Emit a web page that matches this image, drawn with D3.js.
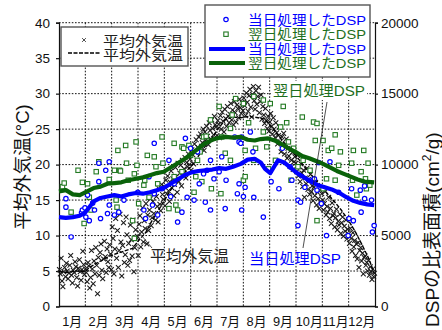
<!DOCTYPE html>
<html>
<head>
<meta charset="utf-8">
<script src="https://cdn.jsdelivr.net/npm/d3@7"></script>
<style>
  body { margin: 0; background: #fff; }
  svg { display: block; }
  text { font-family: "Liberation Sans", Arial, "Noto Sans CJK JP", sans-serif; }
</style>
</head>
<body>
<svg id="chart" width="442" height="330"></svg>
<script>
// ---- data ----------------------------------------------------------------
const months = ["1月","2月","3月","4月","5月","6月","7月","8月","9月","10月","11月","12月"];
const tempTicks = [0, 5, 10, 15, 20, 25, 30, 35, 40];
const dspTicks = [0, 5000, 10000, 15000, 20000];

// daily mean outdoor temperature (°C), one row per month
const tempDaily = [
  5.2,4.6,6.8,3.6,2.8,4.9,5.5,4.2,6.1,5.0,3.9,4.7,5.8,7.2,4.4,3.3,5.1,4.8,6.3,5.6,4.1,2.9,5.4,6.6,4.9,3.7,5.2,7.8,5.9,4.5,5.3,
  4.8,3.5,6.2,5.7,2.6,4.1,7.9,5.3,3.2,6.4,4.6,8.3,5.8,1.8,6.9,4.4,7.6,8.8,5.1,3.9,6.7,9.2,7.0,4.8,8.1,6.3,5.5,8.7,
  7.4,5.2,11.2,9.6,4.6,8.1,12.4,6.8,10.7,5.5,7.9,13.0,9.1,4.3,8.6,11.8,6.2,7.3,12.6,10.1,5.8,8.9,6.5,11.5,9.4,7.1,12.2,4.9,8.3,10.8,9.7,
  9.9,7.2,11.6,12.8,8.4,10.5,13.9,9.1,12.1,11.0,14.5,8.8,12.9,10.7,13.6,15.2,11.4,12.5,14.8,13.1,16.0,12.2,15.5,14.1,11.9,16.6,14.4,13.5,17.2,15.8,
  15.1,16.9,14.2,17.8,15.9,18.4,16.3,14.8,17.5,19.1,16.7,18.0,15.6,17.2,19.6,18.3,16.1,20.2,17.6,18.8,19.9,17.0,20.6,18.5,19.4,21.0,18.1,20.3,19.7,21.5,20.0,
  20.8,19.2,22.1,21.4,20.1,22.9,21.7,23.5,20.6,22.4,23.9,21.8,24.3,22.6,23.1,25.0,22.0,24.6,23.4,25.4,24.0,22.8,25.9,24.8,23.6,26.3,25.1,24.2,26.8,25.6,
  25.3,24.1,26.2,25.7,23.8,26.9,25.0,27.4,26.1,24.6,27.8,26.5,25.4,28.2,26.8,25.9,27.1,28.6,26.3,27.7,25.6,28.9,27.3,26.0,28.4,27.9,26.6,29.2,28.0,27.2,28.7,
  27.6,29.4,28.3,26.9,30.1,28.8,27.5,29.7,30.6,28.1,26.7,29.9,31.0,29.0,27.8,30.4,28.5,29.6,30.9,27.3,28.9,29.8,26.4,28.2,27.0,25.8,27.9,26.2,25.1,26.8,24.7,
  26.0,27.2,25.4,24.3,26.6,25.0,23.8,25.9,24.5,22.9,24.1,25.3,23.2,21.8,23.9,22.6,24.4,21.5,22.8,23.6,20.9,22.3,21.2,19.8,22.0,20.6,21.7,19.3,20.4,21.1,
  20.2,19.0,21.3,18.4,19.7,17.6,20.1,18.8,16.9,19.2,15.4,18.1,17.3,19.5,16.5,17.9,15.8,18.6,16.2,17.0,14.9,16.8,15.6,17.5,14.3,16.1,15.2,13.8,16.4,14.6,15.9,
  15.0,13.6,14.5,16.2,12.9,14.1,13.3,15.4,12.4,13.8,11.7,14.6,12.8,13.1,11.2,12.5,13.7,10.8,12.0,11.5,13.0,10.3,11.8,12.6,9.9,11.3,10.6,12.2,9.5,10.9,
  10.2,8.9,11.0,9.6,7.8,10.4,8.4,9.3,7.2,8.8,6.7,9.0,5.5,7.9,8.3,6.4,7.5,4.6,6.9,7.1,5.8,6.2,5.0,6.5,4.4,5.6,4.9,3.8,5.3,4.2,4.7
];

// moving average of the outdoor temperature
const tempAvgDays = [0,10,20,30,35,45,55,65,75,85,92,100,107,115,122,130,138,146,153,161,169,176,184,192,200,210,220,230,238,246,254,262,270,278,286,294,302,310,318,326,334,342,350,358,364];
const tempAvg     = [4.9,4.8,5.0,4.9,5.5,6.2,6.9,7.4,7.8,8.2,9.3,10.4,12.0,13.6,15.0,16.6,17.8,19.0,19.8,21.2,22.6,23.6,25.1,26.3,26.7,26.6,26.8,26.6,26.4,25.2,24.0,22.8,21.8,20.6,19.3,18.2,17.1,15.9,14.8,13.6,12.2,10.6,8.7,6.7,4.7];

// specific surface area of DSP processed the same day (cm²/g)
const sameDayDays = [8,8,14,26,27,30,31,33,35,39,41,46,46,48,54,56,58,58,64,69,75,91,98,100,104,108,110,110,114,119,127,129,133,137,142,146,148,152,156,160,162,167,169,171,175,175,179,185,188,192,193,203,206,208,208,210,211,211,213,215,221,224,225,236,245,254,258,267,269,276,276,279,284,290,295,298,300,303,309,313,323,334,335,338,340,348,349,353,353,361,362,364];
const sameDayDSP  = [7600,7000,4900,6600,6800,6950,6300,7850,6050,7300,6800,10100,8800,6200,9600,6550,10200,7150,6450,6650,7500,8050,6800,6200,9150,7150,11500,7950,6450,8300,10300,7750,8650,5950,6650,11850,7700,11150,7500,10900,8650,9350,7350,9600,10300,6800,9000,9500,10550,6900,8900,11950,7950,11600,8650,11500,11950,6800,7750,8400,12300,10900,7700,6300,8800,8300,11150,9850,8900,7500,5700,7350,8400,8900,9000,8200,10150,7250,5000,10200,8050,5000,6200,8300,6050,8200,6650,7600,8500,7500,5250,5700];
const sameDayAvgDays = [0,8,16,24,30,35,40,48,56,64,72,80,89,97,105,113,121,129,137,145,153,161,169,177,185,193,201,210,218,226,233,238,244,249,253,260,267,275,283,291,299,307,315,324,332,340,348,356,364];
const sameDayAvg     = [6300,6250,6300,6400,6600,7000,7400,7650,7750,7850,7750,7900,8000,7950,8050,8200,8350,8650,8950,9250,9450,9550,9600,9650,9750,9700,9850,10050,10350,10400,10150,9700,9400,9900,10300,10150,9800,9400,9100,8800,8550,8400,8250,8000,7700,7450,7300,7200,7150];

// specific surface area of DSP processed the next day (cm²/g)
const nextDayDays = [4,6,14,22,27,29,33,35,37,43,46,58,64,66,67,68,70,71,77,78,80,85,87,87,89,90,92,98,99,102,104,110,112,114,119,120,127,133,133,135,137,142,142,144,150,152,156,158,160,163,165,167,170,175,176,185,187,188,192,198,198,200,204,213,213,215,215,219,225,225,227,236,236,240,242,244,250,256,259,263,265,268,271,276,281,282,290,294,296,298,298,305,305,309,311,315,319,319,323,325,338,339,340,344,349,352,354,355,357,359];
const nextDayDSP  = [8450,8700,6650,9600,8750,5850,8650,7700,6800,9500,10200,8950,9600,7500,7000,11000,9600,9550,11350,10100,8900,6050,4800,9350,11600,9950,7250,8550,8900,10650,7700,10550,9850,8650,11950,10100,6900,11500,9150,7150,6800,11250,9500,11150,11350,10650,8050,9150,10300,10900,8800,11950,12000,13150,8300,14100,7950,11950,10800,12550,10300,13500,14650,14300,8900,9150,11000,12950,14800,10300,11150,14550,12300,11250,9700,14300,10300,12650,14100,12950,11600,8900,11150,9850,13350,10300,9600,13000,11700,12900,6050,11700,8300,9000,11000,11150,8900,12100,9950,10900,10100,8900,11000,7850,9500,11000,9000,8300,10100,8550];
const nextDayAvgDays = [0,8,16,24,32,40,48,56,64,72,80,89,97,105,113,121,129,137,145,153,161,169,177,185,193,201,210,218,226,233,241,249,257,265,273,281,289,297,305,313,321,329,337,345,353,364];
const nextDayAvg     = [8100,8200,7900,7850,8100,8350,8450,8650,8700,8750,8900,9000,9100,9250,9400,9500,9800,10100,10400,10750,11150,11500,11750,11900,11950,11900,11950,11750,11700,11800,11850,11700,11450,11150,10900,10600,10450,10250,10050,9800,9550,9350,9150,8950,8800,8750];

// ---- layout ----------------------------------------------------------------
const C_BLUE = "#0000ff", C_GREEN_TXT = "#1d6e1d", C_GREEN = "#0a620a", C_SQ = "#237a23";
const svg = d3.select("#chart");
const L = 59, R = 375, T = 22.7, B = 306.5;

const x = d3.scaleLinear().domain([0, 365]).range([L, R]);
const yT = d3.scaleLinear().domain([0, 40]).range([B, T]);
const yD = d3.scaleLinear().domain([0, 20000]).range([B, T]);
const xm = d3.scaleBand().domain(months).range([L, R]);

// grid
const grid = svg.append("g").attr("stroke", "#111").attr("stroke-width", 1)
  .attr("stroke-dasharray", "1.6,1.6").attr("fill", "none");
tempTicks.filter(t => t > 0).forEach(t => {
  grid.append("line").attr("x1", L).attr("x2", R).attr("y1", yT(t)).attr("y2", yT(t));
});
months.slice(1).forEach(m => {
  const gx = xm(m);
  grid.append("line").attr("x1", gx).attr("x2", gx).attr("y1", T).attr("y2", B);
});

// axes
const axL = svg.append("g").attr("transform", `translate(${L},0)`)
  .call(d3.axisLeft(yT).tickValues(tempTicks).tickSize(3).tickPadding(6));
const axR = svg.append("g").attr("transform", `translate(${R},0)`)
  .call(d3.axisRight(yD).tickValues(dspTicks).tickFormat(d3.format("d")).tickSize(3).tickPadding(3));
const axB = svg.append("g").attr("transform", `translate(0,${B})`)
  .call(d3.axisBottom(xm).tickSize(0).tickPadding(10));
[axL, axR, axB].forEach(a => {
  a.selectAll("text").attr("font-size", 13.5).attr("fill", "#111");
  a.selectAll("path,line").attr("stroke", "#111").attr("stroke-width", 1.2);
});
axB.selectAll("text").attr("font-size", 12.8);
axB.select(".domain").remove();
svg.append("line").attr("x1", L).attr("x2", R).attr("y1", B).attr("y2", B)
  .attr("stroke", "#111").attr("stroke-width", 1.3);

// axis titles
svg.append("text").attr("transform", "translate(29,167) rotate(-90)")
  .attr("text-anchor", "middle").attr("font-size", 18.5).attr("fill", "#111")
  .text("平均外気温(°C)");
const rt = svg.append("text").attr("transform", "translate(439,327) rotate(-90)")
  .attr("font-size", 19).attr("fill", "#111");
rt.append("tspan").text("DSPの比表面積(cm");
rt.append("tspan").attr("font-size", 12).attr("dy", -8).text("2");
rt.append("tspan").attr("dy", 8).text("/g)");

// daily temperatures
const cross = "M-2.4,-2.4L2.4,2.4M-2.4,2.4L2.4,-2.4";
svg.append("g").selectAll("path").data(tempDaily).join("path")
  .attr("d", cross)
  .attr("transform", (v, i) => `translate(${x(i + 0.5)},${yT(v)})`)
  .attr("stroke", "#1a1a1a").attr("stroke-width", 1.05).attr("fill", "none");

// temperature moving average
svg.append("path")
  .datum(tempAvgDays.map((d, i) => [d, tempAvg[i]]))
  .attr("d", d3.line().x(d => x(d[0])).y(d => yT(d[1])))
  .attr("fill", "none").attr("stroke", "#000").attr("stroke-width", 1.4)
  .attr("stroke-dasharray", "4,1.5");

// next-day DSP samples
svg.append("g").selectAll("rect").data(nextDayDays.map((d, i) => [d, nextDayDSP[i]])).join("rect")
  .attr("x", d => x(d[0]) - 2.2).attr("y", d => yD(d[1]) - 2.2)
  .attr("width", 4.4).attr("height", 4.4)
  .attr("fill", "#fff").attr("stroke", C_SQ).attr("stroke-width", 1.1);

// same-day DSP samples
svg.append("g").selectAll("circle").data(sameDayDays.map((d, i) => [d, sameDayDSP[i]])).join("circle")
  .attr("cx", d => x(d[0])).attr("cy", d => yD(d[1])).attr("r", 2.2)
  .attr("fill", "#fff").attr("stroke", C_BLUE).attr("stroke-width", 1.2);

// DSP moving averages
svg.append("path")
  .datum(nextDayAvgDays.map((d, i) => [d, nextDayAvg[i]]))
  .attr("d", d3.line().x(d => x(d[0])).y(d => yD(d[1])))
  .attr("fill", "none").attr("stroke", C_GREEN).attr("stroke-width", 4.2)
  .attr("stroke-linejoin", "round");
svg.append("path")
  .datum(sameDayAvgDays.map((d, i) => [d, sameDayAvg[i]]))
  .attr("d", d3.line().x(d => x(d[0])).y(d => yD(d[1])))
  .attr("fill", "none").attr("stroke", C_BLUE).attr("stroke-width", 4.2)
  .attr("stroke-linejoin", "round");

// annotations
svg.append("line").attr("x1", 137).attr("y1", 230).attr("x2", 152).attr("y2", 248)
  .attr("stroke", "#222").attr("stroke-width", 0.8);
svg.append("text").attr("x", 150).attr("y", 262).attr("font-size", 15.5).attr("fill", "#222")
  .attr("textLength", 79).attr("lengthAdjust", "spacingAndGlyphs").text("平均外気温");
svg.append("line").attr("x1", 327).attr("y1", 102).attr("x2", 303).attr("y2", 248)
  .attr("stroke", "#222").attr("stroke-width", 0.8);
svg.append("rect").attr("x", 271).attr("y", 81).attr("width", 96).attr("height", 19).attr("fill", "#fff");
svg.append("text").attr("x", 273).attr("y", 96).attr("font-size", 15).attr("fill", C_GREEN_TXT)
  .attr("textLength", 92).attr("lengthAdjust", "spacingAndGlyphs").text("翌日処理DSP");
svg.append("text").attr("x", 249).attr("y", 264).attr("font-size", 15).attr("fill", C_BLUE)
  .attr("textLength", 92).attr("lengthAdjust", "spacingAndGlyphs").text("当日処理DSP");

// legend: temperature
const lg1 = svg.append("g");
lg1.append("rect").attr("x", 61).attr("y", 27).attr("width", 127).attr("height", 39)
  .attr("fill", "#fff").attr("stroke", "#555").attr("stroke-width", 1.4);
lg1.append("path").attr("d", cross).attr("transform", "translate(84,40) scale(0.8)")
  .attr("stroke", "#222").attr("stroke-width", 1).attr("fill", "none");
lg1.append("line").attr("x1", 68).attr("x2", 100).attr("y1", 53).attr("y2", 53)
  .attr("stroke", "#000").attr("stroke-width", 1.3).attr("stroke-dasharray", "4,1.5");
[46, 59.5].forEach(yy => {
  lg1.append("text").attr("x", 103).attr("y", yy).attr("font-size", 13.5).attr("fill", "#222")
    .attr("textLength", 80).attr("lengthAdjust", "spacingAndGlyphs").text("平均外気温");
});

// legend: DSP
const lg2 = svg.append("g");
lg2.append("rect").attr("x", 205).attr("y", 5).attr("width", 165).attr("height", 72)
  .attr("fill", "#fff").attr("stroke", "#555").attr("stroke-width", 1.4);
lg2.append("circle").attr("cx", 226).attr("cy", 19.5).attr("r", 2.2)
  .attr("fill", "#fff").attr("stroke", C_BLUE).attr("stroke-width", 1.2);
lg2.append("rect").attr("x", 223.8).attr("y", 32).attr("width", 4.4).attr("height", 4.4)
  .attr("fill", "#fff").attr("stroke", C_SQ).attr("stroke-width", 1.1);
lg2.append("line").attr("x1", 209).attr("x2", 245).attr("y1", 49).attr("y2", 49)
  .attr("stroke", C_BLUE).attr("stroke-width", 4.2);
lg2.append("line").attr("x1", 209).attr("x2", 245).attr("y1", 63).attr("y2", 63)
  .attr("stroke", C_GREEN).attr("stroke-width", 4.2);
[["当日処理したDSP", 25, C_BLUE], ["翌日処理したDSP", 38.5, C_GREEN_TXT],
 ["当日処理したDSP", 53.5, C_BLUE], ["翌日処理したDSP", 67.5, C_GREEN_TXT]].forEach(([t, yy, c]) => {
  lg2.append("text").attr("x", 248).attr("y", yy).attr("font-size", 13.2).attr("fill", c)
    .attr("textLength", 118).attr("lengthAdjust", "spacingAndGlyphs").text(t);
});
</script>
</body>
</html>
